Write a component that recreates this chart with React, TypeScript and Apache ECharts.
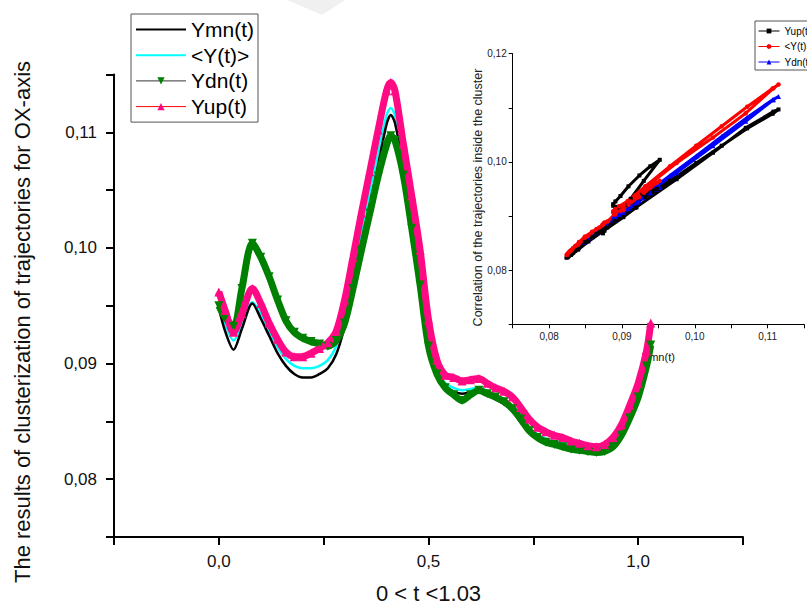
import React, { useEffect, useRef } from 'react';
import * as echarts from 'echarts';

const FONT = "'Liberation Sans', Arial, sans-serif";

// time values t
const tValues = [0, 0.015, 0.035, 0.055, 0.08, 0.10, 0.12, 0.14, 0.16, 0.18, 0.20, 0.22, 0.24, 0.26, 0.28, 0.30, 0.32, 0.34, 0.36, 0.38, 0.40, 0.41, 0.42, 0.44, 0.46, 0.48, 0.50, 0.52, 0.54, 0.56, 0.58, 0.60, 0.62, 0.64, 0.66, 0.68, 0.70, 0.72, 0.74, 0.76, 0.78, 0.80, 0.82, 0.84, 0.86, 0.88, 0.90, 0.92, 0.94, 0.96, 0.98, 1.00, 1.02, 1.03];

const ymn = [0.0948, 0.0928, 0.0912, 0.0930, 0.0952, 0.0939, 0.0924, 0.0909, 0.0898, 0.0891, 0.0888, 0.0888, 0.0891, 0.0896, 0.0908, 0.0932, 0.0966, 0.1002, 0.1037, 0.1072, 0.1107, 0.1115, 0.1108, 0.1070, 0.1025, 0.0975, 0.0918, 0.0890, 0.0880, 0.0876, 0.0874, 0.0875, 0.0876, 0.0873, 0.0869, 0.0865, 0.0859, 0.0849, 0.0841, 0.0836, 0.0833, 0.0831, 0.0829, 0.0827, 0.0826, 0.0825, 0.0824, 0.0825, 0.0830, 0.0840, 0.0854, 0.0873, 0.0902, 0.0920];

const yavg = [0.0950, 0.0934, 0.0920, 0.0934, 0.0953, 0.0943, 0.0928, 0.0914, 0.0904, 0.0898, 0.0896, 0.0896, 0.0898, 0.0903, 0.0915, 0.0940, 0.0975, 0.1011, 0.1047, 0.1082, 0.1115, 0.1121, 0.1115, 0.1075, 0.1030, 0.0980, 0.0922, 0.0892, 0.0883, 0.0879, 0.0877, 0.0878, 0.0879, 0.0876, 0.0872, 0.0868, 0.0862, 0.0852, 0.0844, 0.0839, 0.0835, 0.0833, 0.0831, 0.0829, 0.0828, 0.0827, 0.0826, 0.0827, 0.0832, 0.0842, 0.0857, 0.0877, 0.0906, 0.0925];

const ydn = [0.0950, 0.0940, 0.0932, 0.0965, 0.1004, 0.0992, 0.0975, 0.0955, 0.0937, 0.0927, 0.0922, 0.0919, 0.0917, 0.0915, 0.0920, 0.0935, 0.0965, 0.0998, 0.1030, 0.1062, 0.1089, 0.1097, 0.1093, 0.1063, 0.1017, 0.0968, 0.0915, 0.0891, 0.0879, 0.0873, 0.0868, 0.0873, 0.0877, 0.0874, 0.0871, 0.0867, 0.0861, 0.0852, 0.0842, 0.0836, 0.0832, 0.0830, 0.0828, 0.0826, 0.0825, 0.0824, 0.0823, 0.0824, 0.0828, 0.0838, 0.0853, 0.0871, 0.0898, 0.0916];

const yup = [0.0962, 0.0946, 0.0927, 0.0943, 0.0965, 0.0952, 0.0935, 0.0921, 0.0910, 0.0906, 0.0906, 0.0909, 0.0913, 0.0918, 0.0928, 0.0955, 0.0992, 0.1030, 0.1066, 0.1102, 0.1136, 0.1143, 0.1136, 0.1090, 0.1045, 0.0998, 0.0938, 0.0903, 0.0890, 0.0888, 0.0885, 0.0886, 0.0887, 0.0883, 0.0879, 0.0876, 0.0871, 0.0862, 0.0852, 0.0845, 0.0841, 0.0838, 0.0836, 0.0833, 0.0831, 0.0829, 0.0828, 0.0830, 0.0836, 0.0847, 0.0864, 0.0883, 0.0911, 0.0935];

const mainLegend = ['Ymn(t)', '<Y(t)>', 'Ydn(t)', 'Yup(t)'];
const insetLegend = ['Yup(t) ', '<Y(t)> ', 'Ydn(t) '];

const yTitle = 'The results of clusterization of trajectories for OX-axis';
const xTitle = '0 < t <1.03';
const insetYTitle = 'Correlation of the trajectories inside the cluster';
const insetXTitle = 'Ymn(t)';

const comma = (v: number, d: number) => v.toFixed(d).replace('.', ',');

export default function App() {
  const ref = useRef<HTMLDivElement>(null);
  useEffect(() => {
    const chart = echarts.init(ref.current!, null, { renderer: 'svg' });
    const pair = (a: number[], b: number[]) => a.map((v, i) => [v, b[i]]);
    const tv = (arr: number[]) => tValues.map((t, i) => [t, arr[i]]);

    const option: any = {
      animation: false,
      backgroundColor: '#fff',
      textStyle: { fontFamily: FONT },
      grid: [
        { left: 114, right: 64, top: 74.5, bottom: 66 },
        { left: 512.7, top: 53.7, width: 295.6, height: 270.6 },
      ],
      legend: [
        {
          left: 131, top: 14, orient: 'vertical',
          padding: [5, 4, 5, 4], itemGap: 4.7, itemWidth: 50, itemHeight: 9,
          borderColor: '#555', borderWidth: 1, selectedMode: false,
          textStyle: { fontSize: 21, lineHeight: 21, color: '#000', fontFamily: FONT },
          data: [
            { name: mainLegend[0], itemStyle: { opacity: 0 } },
            { name: mainLegend[1], itemStyle: { opacity: 0 } },
            { name: mainLegend[2], lineStyle: { color: '#333', width: 1 } },
            { name: mainLegend[3], lineStyle: { color: '#ff0000', width: 1 } },
          ],
        },
        {
          left: 755, top: 21, orient: 'vertical',
          padding: [4, 3, 2, 3], itemGap: 3.5, itemWidth: 21, itemHeight: 6,
          borderColor: '#555', borderWidth: 1, selectedMode: false,
          textStyle: { fontSize: 10, lineHeight: 12, color: '#000', fontFamily: FONT },
          data: [
            { name: insetLegend[0], lineStyle: { width: 1 } },
            { name: insetLegend[1], lineStyle: { width: 1 } },
            { name: insetLegend[2], lineStyle: { width: 1 } },
          ],
        },
      ],
      xAxis: [
        {
          type: 'value', gridIndex: 0, min: -0.25, max: 1.25, interval: 0.25,
          axisLine: { onZero: false, lineStyle: { color: '#000', width: 2 } },
          axisTick: { show: true, length: 8, lineStyle: { color: '#000', width: 2 } },
          splitLine: { show: false },
          axisLabel: {
            fontSize: 17, margin: 16, color: '#111', fontFamily: FONT,
            formatter: (v: number) => { const k = Math.round(v * 100); return k % 50 === 0 ? comma(k / 100, 1) : ''; },
          },
          name: xTitle, nameLocation: 'middle', nameGap: 45,
          nameTextStyle: { fontSize: 22, color: '#111', fontFamily: FONT },
        },
        {
          type: 'value', gridIndex: 1, min: 0.075, max: 0.115, interval: 0.005,
          axisLine: { onZero: false, lineStyle: { color: '#000', width: 1 } },
          axisTick: { show: true, length: 4, lineStyle: { color: '#000', width: 1 } },
          splitLine: { show: false },
          axisLabel: {
            fontSize: 10, margin: 7, color: '#222', fontFamily: FONT,
            formatter: (v: number) => { const k = Math.round(v * 1000); return k % 10 === 0 ? comma(k / 1000, 2) : ''; },
          },
          name: insetXTitle, nameLocation: 'middle', nameGap: 27,
          nameTextStyle: { fontSize: 11, color: '#111', fontFamily: FONT },
        },
      ],
      yAxis: [
        {
          type: 'value', gridIndex: 0, min: 0.075, max: 0.115, interval: 0.005,
          axisLine: { onZero: false, lineStyle: { color: '#000', width: 2 } },
          axisTick: { show: true, length: 8, lineStyle: { color: '#000', width: 2 } },
          splitLine: { show: false },
          axisLabel: {
            fontSize: 17, margin: 17, color: '#111', fontFamily: FONT,
            formatter: (v: number) => { const k = Math.round(v * 1000); return k % 10 === 0 ? comma(k / 1000, 2) : ''; },
          },
        },
        {
          type: 'value', gridIndex: 1, min: 0.07, max: 0.12, interval: 0.01,
          axisLine: { onZero: false, lineStyle: { color: '#000', width: 1 } },
          axisTick: { show: true, length: 4, lineStyle: { color: '#000', width: 1 } },
          splitLine: { show: false },
          axisLabel: {
            fontSize: 10, margin: 6, color: '#222', fontFamily: FONT,
            formatter: (v: number) => { const k = Math.round(v * 100); return k % 2 === 0 ? comma(k / 100, 2) : ''; },
          },
        },
      ],
      series: [
        {
          name: mainLegend[1], type: 'line', xAxisIndex: 0, yAxisIndex: 0, data: tv(yavg),
          smooth: 0.3, symbol: 'none', lineStyle: { color: '#00ffff', width: 2.5 }, itemStyle: { color: '#00ffff' },
        },
        {
          name: mainLegend[0], type: 'line', xAxisIndex: 0, yAxisIndex: 0, data: tv(ymn),
          smooth: 0.3, symbol: 'none', lineStyle: { color: '#000', width: 2.5 }, itemStyle: { color: '#000' },
        },
        {
          name: mainLegend[2], type: 'line', xAxisIndex: 0, yAxisIndex: 0, data: tv(ydn),
          smooth: 0.3, symbol: 'triangle', symbolRotate: 180, symbolSize: 9, showSymbol: true,
          lineStyle: { color: '#008000', width: 7 }, itemStyle: { color: '#008000' },
        },
        {
          name: mainLegend[3], type: 'line', xAxisIndex: 0, yAxisIndex: 0, data: tv(yup),
          smooth: 0.3, symbol: 'triangle', symbolSize: 9, showSymbol: true,
          lineStyle: { color: '#ff0a85', width: 7 }, itemStyle: { color: '#ff0a85' },
        },
        {
          name: insetLegend[2], type: 'line', xAxisIndex: 1, yAxisIndex: 1, data: pair(ymn, yavg),
          symbol: 'triangle', symbolSize: 5, lineStyle: { color: '#0000ff', width: 3 }, itemStyle: { color: '#0000ff' },
        },
        {
          name: insetLegend[0], type: 'line', xAxisIndex: 1, yAxisIndex: 1, data: pair(ymn, ydn),
          symbol: 'rect', symbolSize: 4, lineStyle: { color: '#000', width: 3 }, itemStyle: { color: '#000' },
        },
        {
          name: insetLegend[1], type: 'line', xAxisIndex: 1, yAxisIndex: 1, data: pair(ymn, yup),
          symbol: 'circle', symbolSize: 4.5, lineStyle: { color: '#ff0000', width: 3 }, itemStyle: { color: '#ff0000' },
        },
      ],
      graphic: [
        {
          type: 'polygon', z: -1, silent: true,
          shape: { points: [[287, 0], [345, 0], [322, 15]] },
          style: { fill: '#f0f0f0' },
        },
        {
          type: 'text', x: 22, y: 322, rotation: Math.PI / 2,
          style: { text: yTitle, font: `22px ${FONT}`, fill: '#111', textAlign: 'center', textVerticalAlign: 'middle' },
        },
        {
          type: 'text', x: 478, y: 197.5, rotation: Math.PI / 2,
          style: { text: insetYTitle, font: `12.5px ${FONT}`, fill: '#222', textAlign: 'center', textVerticalAlign: 'middle' },
        },
      ],
    };
    chart.setOption(option);
    return () => chart.dispose();
  }, []);
  return <div ref={ref} style={{ position: 'fixed', left: 0, top: 0, width: 807, height: 609 }} />;
}
